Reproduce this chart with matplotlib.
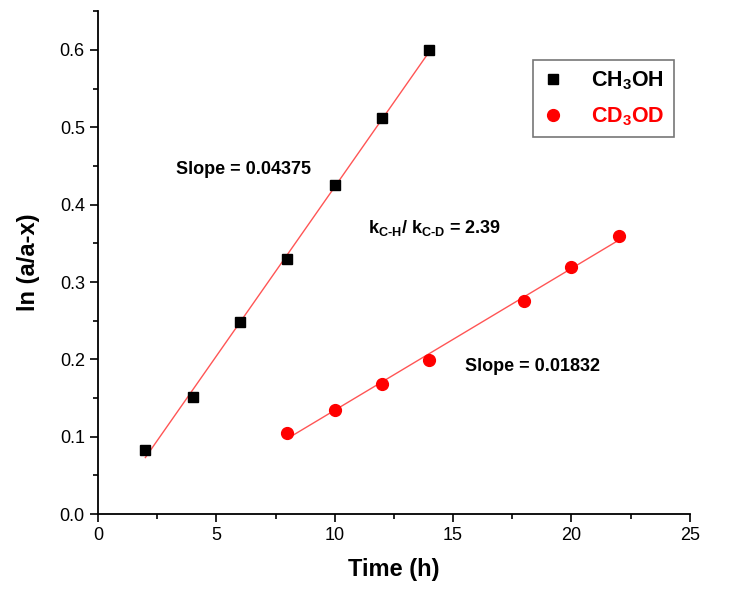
import matplotlib
matplotlib.use("Agg")
import matplotlib.pyplot as plt
import numpy as np
from matplotlib.ticker import MultipleLocator

plt.rcParams['font.family'] = ['Liberation Sans', 'DejaVu Sans']
plt.rcParams['mathtext.fontset'] = 'custom'
plt.rcParams['mathtext.rm'] = 'Liberation Sans:bold'
plt.rcParams['mathtext.bf'] = 'Liberation Sans:bold'
plt.rcParams['mathtext.it'] = 'Liberation Sans:bold'

t_h = [2, 4, 6, 8, 10, 12, 14]
y_h = [0.083, 0.151, 0.248, 0.330, 0.425, 0.512, 0.600]
t_d = [8, 10, 12, 14, 18, 20, 22]
y_d = [0.105, 0.135, 0.168, 0.199, 0.276, 0.320, 0.360]

fig = plt.figure(figsize=(7.37, 5.95), dpi=100)
ax = fig.add_axes([0.133, 0.136, 0.803, 0.845])

ph = np.polyfit(t_h, y_h, 1)
pd_ = np.polyfit(t_d, y_d, 1)
xh = np.array([t_h[0], t_h[-1]])
xd = np.array([t_d[0], t_d[-1]])
ax.plot(xh, np.polyval(ph, xh), color='#ff5555', lw=1.0, zorder=2)
ax.plot(xd, np.polyval(pd_, xd), color='#ff5555', lw=1.0, zorder=2)
ax.plot(t_h, y_h, 's', color='black', ms=7.5, ls='none', label=r'CH$_\mathrm{3}$OH', zorder=3)
ax.plot(t_d, y_d, 'o', color='red', ms=8.5, ls='none', label=r'CD$_\mathrm{3}$OD', zorder=3)

ax.set_xlim(0, 25)
ax.set_ylim(0, 0.65)
ax.xaxis.set_major_locator(MultipleLocator(5))
ax.xaxis.set_minor_locator(MultipleLocator(2.5))
ax.set_yticks([0, 0.1, 0.2, 0.3, 0.4, 0.5, 0.6])
ax.yaxis.set_minor_locator(MultipleLocator(0.05))
ax.spines['top'].set_visible(False)
ax.spines['right'].set_visible(False)
for s in ('left', 'bottom'):
    ax.spines[s].set_linewidth(1.3)
ax.tick_params(which='major', direction='out', length=6, width=1.2, labelsize=13)
ax.tick_params(which='minor', direction='out', length=3.5, width=1.2)
ax.set_yticklabels(['0.0', '0.1', '0.2', '0.3', '0.4', '0.5', '0.6'])

ax.set_xlabel('Time (h)', fontsize=17, fontweight='bold', labelpad=10)
ax.set_ylabel('ln (a/a-x)', fontsize=17, fontweight='bold', labelpad=14)

ax.text(3.3, 0.445, 'Slope = 0.04375', fontsize=13, fontweight='bold', va='center')
ax.text(11.4, 0.370, r'k$_\mathrm{C\text{-}H}$/ k$_\mathrm{C\text{-}D}$ = 2.39',
        fontsize=13, fontweight='bold', va='center')
ax.text(15.5, 0.191, 'Slope = 0.01832', fontsize=13, fontweight='bold', va='center')

leg = ax.legend(loc='upper right', bbox_to_anchor=(0.973, 0.903), borderaxespad=0,
                prop={'weight': 'bold', 'size': 15.5}, frameon=True, fancybox=False,
                edgecolor='#555555', handlelength=1.0, handletextpad=1.3,
                borderpad=0.42, labelspacing=0.65)
leg.get_frame().set_linewidth(1.2)
for txt, c in zip(leg.get_texts(), ['black', 'red']):
    txt.set_color(c)

fig.savefig('out.png', dpi=100, facecolor='white')
